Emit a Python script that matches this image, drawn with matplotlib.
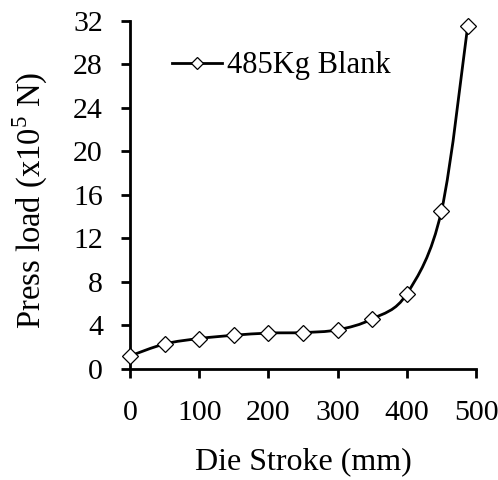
import matplotlib
matplotlib.use('Agg')
import matplotlib.pyplot as plt
import numpy as np
from matplotlib.path import Path
from matplotlib.patches import PathPatch
from matplotlib.lines import Line2D

plt.rcParams['font.family'] = ['Liberation Serif', 'DejaVu Serif']
plt.rcParams['mathtext.fontset'] = 'custom'
plt.rcParams['mathtext.rm'] = 'Liberation Serif'

# data
stroke = [0, 50, 100, 150, 200, 250, 300, 350, 400, 450, 488]
load = [1.2, 2.3, 2.8, 3.1, 3.3, 3.35, 3.6, 4.6, 6.9, 14.5, 31.5]
series_name = '485Kg Blank'
xticks = [0, 100, 200, 300, 400, 500]
yticks = [0, 4, 8, 12, 16, 20, 24, 28, 32]

fig = plt.figure(figsize=(4.98, 4.8), dpi=100)
ax = fig.add_axes([130 / 498, 1 - 369 / 480, 346 / 498, 348.3 / 480])


def smooth_path(x, y):
    # Excel-style smoothed line: cubic Bezier through the points
    pts = np.column_stack([x, y]).astype(float)
    ext = np.vstack([pts[0], pts, pts[-1]])
    verts = [tuple(pts[0])]
    codes = [Path.MOVETO]
    for i in range(1, len(ext) - 2):
        p0, p1, p2, p3 = ext[i - 1], ext[i], ext[i + 1], ext[i + 2]
        c1 = p1 + (p2 - p0) / 6
        c2 = p2 - (p3 - p1) / 6
        verts += [tuple(c1), tuple(c2), tuple(p2)]
        codes += [Path.CURVE4] * 3
    return Path(verts, codes)


ax.add_patch(PathPatch(smooth_path(stroke, load), facecolor='none',
                       edgecolor='black', lw=2, zorder=2))
ax.plot(stroke, load, ls='none', marker='D', ms=8, mfc='white',
        mec='black', mew=0.9, zorder=3, clip_on=False)

ax.set_xlim(0, 500)
ax.set_ylim(0, 32)
ax.set_xticks(xticks)
ax.set_yticks(yticks)
for s in ['top', 'right']:
    ax.spines[s].set_visible(False)
for s in ['left', 'bottom']:
    ax.spines[s].set_linewidth(2)
ax.tick_params(direction='out', length=6.5, width=2, labelsize=21.5)
ax.tick_params(axis='x', pad=16)
ax.tick_params(axis='y', pad=13)

ax.set_xlabel('Die Stroke (mm)', fontsize=23, va='center')
ax.xaxis.set_label_coords(0.5, -(462 - 369) / 348.3)
ax.set_ylabel(r'Press load (x10$^{5}$ N)', fontsize=23.5, va='center')
ax.yaxis.set_label_coords((30 - 130) / 346, (369 - 200) / 348.3)

handle = Line2D([], [], color='black', lw=2, marker='D', ms=6,
                mfc='white', mec='black', mew=0.9)
ax.legend([handle], [series_name], loc='center left',
          bbox_to_anchor=((172 - 130) / 346, (369 - 66) / 348.3),
          frameon=False, fontsize=22, handlelength=1.63, handletextpad=0.16,
          borderpad=0, borderaxespad=0)

fig.savefig('out.png', dpi=100)
